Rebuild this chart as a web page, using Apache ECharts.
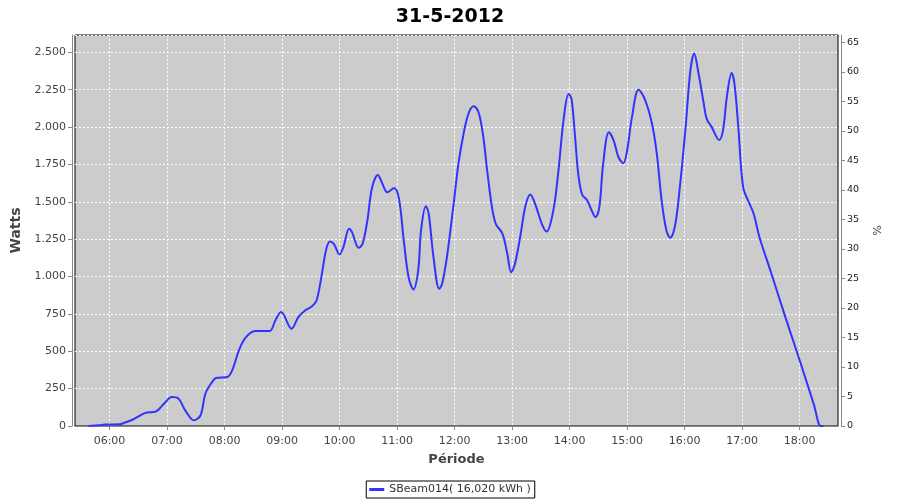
<!DOCTYPE html>
<html>
<head>
<meta charset="utf-8">
<script src="https://cdn.jsdelivr.net/npm/echarts@6/dist/echarts.min.js"></script>
<style>
html,body{margin:0;padding:0;background:#fff;}
#chart{width:900px;height:500px;}
</style>
</head>
<body>
<div id="chart"></div>
<script>
var titleText = '31-5-2012';
var seriesName = 'SBeam014( 16,020 kWh )';
var times = ['05:38','05:50','05:55','06:10','06:16','06:25','06:34','06:39','06:48','06:57',
  '07:05','07:12','07:19','07:28','07:35','07:40','07:47','07:51','08:03','08:08',
  '08:15','08:22','08:32','08:47','08:53','08:59','09:10','09:17','09:24','09:31',
  '09:36','09:41','09:46','09:50','09:54','10:00','10:04','10:10','10:13','10:20',
  '10:24','10:29','10:34','10:40','10:44','10:50','10:57','11:02','11:07','11:12',
  '11:17','11:22','11:25','11:30','11:33','11:38','11:44','11:47','11:52','11:59',
  '12:04','12:10','12:15','12:20','12:25','12:30','12:34','12:39','12:43','12:50',
  '12:55','12:59','13:03','13:09','13:14','13:19','13:24','13:31','13:36','13:43',
  '13:48','13:54','13:59','14:02','14:06','14:09','14:13','14:18','14:23','14:27',
  '14:31','14:35','14:41','14:46','14:51','14:56','15:00','15:05','15:12','15:19',
  '15:26','15:31','15:36','15:41','15:45','15:50','15:55','16:01','16:06','16:10',
  '16:14','16:20','16:23','16:28','16:36','16:40','16:44','16:49','16:52','16:56',
  '17:01','17:07','17:12','17:18','17:30','17:45','18:00','18:15','18:22','18:25'];
var watts = [0,5,10,11,23,45,78,90,96,150,
  194,183,105,38,72,216,294,321,328,372,
  506,591,635,635,706,762,651,729,773,800,
  840,996,1180,1235,1219,1148,1197,1320,1297,1192,
  1219,1375,1598,1680,1631,1564,1593,1520,1241,996,
  914,1040,1308,1471,1420,1130,918,952,1130,1486,
  1754,1976,2099,2139,2099,1932,1709,1464,1353,1286,
  1152,1029,1085,1286,1475,1549,1486,1353,1301,1442,
  1687,2065,2222,2188,1910,1687,1549,1513,1442,1397,
  1464,1754,1965,1910,1798,1758,1843,2065,2250,2177,
  2021,1821,1509,1308,1259,1341,1598,1999,2378,2493,
  2378,2155,2055,2003,1914,1976,2199,2362,2289,1999,
  1598,1497,1420,1265,1030,730,440,140,0,0];
var hourTicks = ['06:00','07:00','08:00','09:00','10:00','11:00','12:00','13:00','14:00','15:00','16:00','17:00','18:00'];

function toMin(t){var p=t.split(':');return (+p[0])*60+(+p[1]);}
function fmtMin(v){var h=Math.floor(v/60),m=Math.round(v-h*60);return (h<10?'0':'')+h+':'+(m<10?'0':'')+m;}
function fmtW(v){return String(v).replace(/\B(?=(\d{3})+(?!\d))/g,'.');}

var data = times.map(function(t,i){return [toMin(t), watts[i]];});
var tickVals = hourTicks.map(toMin);

var chart = echarts.init(document.getElementById('chart'), null, {renderer:'canvas'});
chart.setOption({
  animation:false,
  backgroundColor:'#ffffff',
  textStyle:{fontFamily:'DejaVu Sans'},
  title:{text:titleText,left:'center',top:3,textStyle:{fontSize:19,fontWeight:'bold',color:'#000',fontFamily:'DejaVu Sans'}},
  legend:{
    data:[seriesName],bottom:2,left:'center',
    borderColor:'#000',borderWidth:1,padding:[3,4,3,3],
    itemWidth:15,itemHeight:3,icon:'rect',
    textStyle:{fontSize:11,color:'#333',fontFamily:'DejaVu Sans'}
  },
  grid:{left:75,right:62,top:35,bottom:74,show:true,backgroundColor:'#cccccc',borderColor:'#000',borderWidth:1,containLabel:false},
  xAxis:{
    type:'value',min:324,max:1120,
    name:'Période',nameLocation:'middle',nameGap:23,
    nameTextStyle:{fontSize:13,fontWeight:'bold',color:'#444',fontFamily:'DejaVu Sans'},
    offset:4,
    axisLine:{show:true,lineStyle:{color:'#888',width:1}},
    axisTick:{show:true,length:4,lineStyle:{color:'#888'},customValues:tickVals},
    axisLabel:{customValues:tickVals,formatter:function(v){return fmtMin(v);},fontSize:11,color:'#444',margin:6},
    splitLine:{show:true,lineStyle:{color:'#ffffff',type:[2,2],width:1}}
  },
  yAxis:[{
    type:'value',min:0,max:2616,interval:250,position:'left',
    name:'Watts',nameLocation:'middle',nameGap:43,
    nameTextStyle:{fontSize:14,fontWeight:'bold',color:'#444',fontFamily:'DejaVu Sans'},
    offset:3,
    axisLine:{show:true,lineStyle:{color:'#888',width:1}},
    axisTick:{show:true,length:4,lineStyle:{color:'#888'}},
    axisLabel:{formatter:function(v){return fmtW(v);},fontSize:11,color:'#444',margin:6,showMaxLabel:false},
    splitLine:{show:true,lineStyle:{color:'#ffffff',type:[2,2],width:1}}
  },{
    type:'value',min:0,max:66.24,interval:5,position:'right',
    name:'%',nameLocation:'middle',nameGap:26,nameRotate:-90,
    nameTextStyle:{fontSize:11,color:'#444',fontFamily:'DejaVu Sans'},
    offset:3,
    axisLine:{show:true,lineStyle:{color:'#888',width:1}},
    axisTick:{show:true,length:4,lineStyle:{color:'#888'}},
    axisLabel:{fontSize:9.5,color:'#222',margin:6,showMaxLabel:false},
    splitLine:{show:false}
  }],
  series:[{
    name:seriesName,type:'line',yAxisIndex:0,data:data,
    smooth:0.35,showSymbol:false,symbol:'none',
    lineStyle:{color:'#3333ff',width:2},itemStyle:{color:'#3333ff'}
  }]
});
</script>
</body>
</html>
